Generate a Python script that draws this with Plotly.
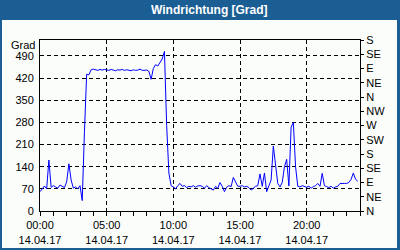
import plotly.graph_objects as go
import pandas as pd

# 10-minute readings, 14.04.17 00:00 .. 23:50
times = pd.date_range("2017-04-14 00:00", periods=144, freq="10min")
wind_dir = [
    61, 72, 79, 70, 161, 75,
    80, 76, 72, 82, 78, 74,
    92, 149, 98, 72, 76, 70,
    80, 33, 250, 432, 430, 446,
    448, 446, 444, 447, 445, 447,
    446, 444, 447, 445, 443, 446,
    445, 447, 444, 446, 445, 443,
    446, 444, 445, 448, 444, 445,
    445, 441, 416, 450, 462, 458,
    470, 480, 504, 270, 120, 80,
    76, 70, 80, 87, 78, 80,
    74, 78, 76, 80, 75, 79,
    80, 78, 72, 80, 74, 70,
    66, 78, 72, 90, 78, 61,
    75, 80, 77, 106, 92, 78,
    78, 80, 76, 78, 74, 66,
    72, 78, 80, 117, 78, 120,
    61, 80, 98, 205, 140, 87,
    76, 90, 140, 163, 79, 265,
    279, 140, 78, 76, 80, 77,
    75, 78, 72, 77, 80, 87,
    78, 119, 80, 77, 74, 78,
    72, 76, 78, 87, 86, 87,
    87, 90, 100, 120, 100, 94,
]
left_ticks = [0, 70, 140, 210, 280, 350, 420, 490]
compass_vals = [0, 45, 90, 135, 180, 225, 270, 315, 360, 405, 450, 495, 540]
compass_text = ["N", "NE", "E", "SE", "S", "SW", "W", "NW", "N", "NE", "E", "SE", "S"]
title_text = "Windrichtung [Grad]"
unit_text = "Grad"

BLUE = "#1b5e94"
BG = "#fbfdfb"
FONT = "Liberation Sans"

W, H = 400, 250
ml, mr, mt, mb = 40, 40, 40, 39
pw, ph = W - ml - mr, H - mt - mb

def px_x(p):
    return (p - ml) / pw

def px_y(p):
    return (H - mb - p) / ph

fig = go.Figure()
fig.add_trace(go.Scatter(x=times, y=wind_dir, mode="lines",
                         line=dict(color="#0000ff", width=1), showlegend=False,
                         hoverinfo="skip"))
# invisible trace to activate right axis
fig.add_trace(go.Scatter(x=[times[0]], y=[0], yaxis="y2", mode="markers",
                         marker=dict(opacity=0), showlegend=False, hoverinfo="skip"))

shapes = [
    dict(type="rect", xref="paper", yref="paper", x0=px_x(0), x1=px_x(400),
         y0=px_y(20), y1=px_y(0), fillcolor=BLUE, line=dict(width=0), layer="below"),
    dict(type="rect", xref="paper", yref="paper", x0=px_x(0), x1=px_x(2),
         y0=px_y(250), y1=px_y(0), fillcolor=BLUE, line=dict(width=0), layer="below"),
    dict(type="rect", xref="paper", yref="paper", x0=px_x(397), x1=px_x(400),
         y0=px_y(250), y1=px_y(0), fillcolor=BLUE, line=dict(width=0), layer="below"),
    dict(type="rect", xref="paper", yref="paper", x0=px_x(0), x1=px_x(400),
         y0=px_y(250), y1=px_y(248), fillcolor=BLUE, line=dict(width=0), layer="below"),
]

fig.update_layout(
    width=W, height=H,
    margin=dict(l=ml, r=mr, t=mt, b=mb, autoexpand=False),
    paper_bgcolor=BG, plot_bgcolor=BG,
    font=dict(family=FONT, size=11, color="black"),
    shapes=shapes,
    annotations=[
        dict(text=title_text, xref="paper", yref="paper", x=px_x(209), y=px_y(10),
             xanchor="center", yanchor="middle", showarrow=False,
             font=dict(family=FONT, size=12, color="white", weight="bold")),
        dict(text=unit_text, xref="paper", yref="paper", x=0, y=px_y(38), xshift=-4,
             xanchor="right", yanchor="top", showarrow=False, borderpad=0,
             font=dict(family=FONT, size=11, color="black")),
    ],
    xaxis=dict(
        type="date", automargin=False,
        range=["2017-04-14 00:00", "2017-04-15 00:00"],
        tick0="2017-04-14 00:00", dtick=5 * 3600000,
        tickformat="%H:%M<br>%d.%m.%y",
        ticks="outside", ticklen=4, tickcolor="black", tickwidth=1,
        minor=dict(dtick=3600000, ticks="outside", ticklen=4, tickcolor="black", showgrid=False),
        showgrid=True, gridcolor="black", gridwidth=1, griddash="4px,3px",
        showline=True, linecolor="black", linewidth=1, mirror=True,
        zeroline=False, fixedrange=True,
        tickfont=dict(family=FONT, size=11, color="black"),
    ),
    yaxis=dict(
        range=[0, 540], tickvals=left_ticks, automargin=False,
        ticks="", ticklabelstandoff=3,
        showgrid=True, gridcolor="black", gridwidth=1, griddash="4px,3px",
        showline=True, linecolor="black", linewidth=1, mirror=True,
        zeroline=False, fixedrange=True,
        tickfont=dict(family=FONT, size=11, color="black"),
    ),
    yaxis2=dict(
        overlaying="y", side="right", range=[0, 540], automargin=False,
        tickvals=compass_vals, ticktext=compass_text,
        ticks="outside", ticklen=3, tickcolor="black",
        showgrid=False, zeroline=False, showline=True, linecolor="black",
        fixedrange=True,
        tickfont=dict(family=FONT, size=11, color="black"),
    ),
)

fig.write_html("out.html", config=dict(displayModeBar=False))
